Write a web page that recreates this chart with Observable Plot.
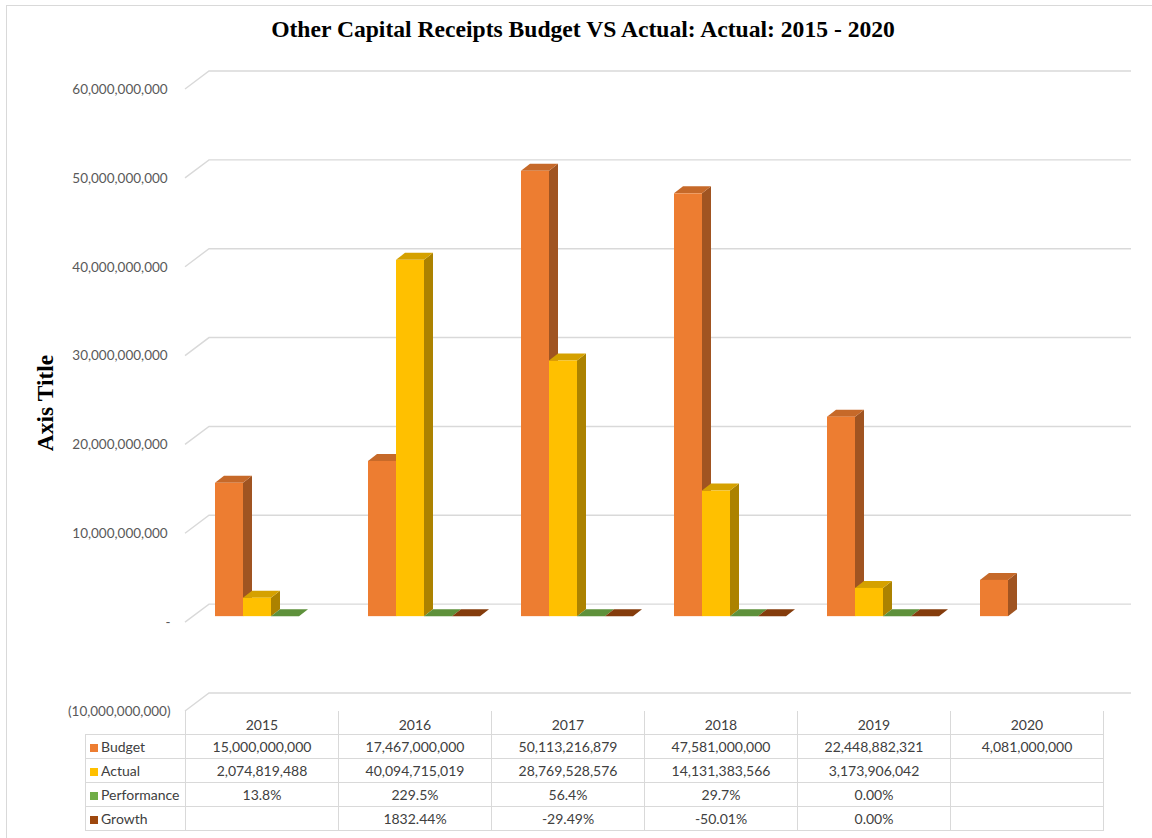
<!DOCTYPE html>
<html>
<head>
<meta charset="utf-8">
<script src="https://cdn.jsdelivr.net/npm/d3@7"></script>
<script src="https://cdn.jsdelivr.net/npm/@observablehq/plot@0.6"></script>
<style>
  body { margin: 0; background: #fff; }
  #chart { position: relative; width: 1152px; height: 838px; overflow: hidden; background: #fff; font-family: Lato, "Open Sans", sans-serif; }
  #frame { position: absolute; left: 6px; top: 5px; width: 1200px; height: 900px; border: 1.5px solid #d9d9d9; }
  #title { position: absolute; left: 6px; width: 1154px; top: 16px; text-align: center; font: bold 23.6px "Liberation Serif", "Times New Roman", serif; color: #000; white-space: nowrap; }
  #axis-title { position: absolute; left: 45px; top: 403px; transform: translate(-50%, -50%) rotate(-90deg); font: bold 23.5px "Liberation Serif", "Times New Roman", serif; color: #000; white-space: nowrap; }
  #plot { position: absolute; left: 0; top: 50px; }
  #table { position: absolute; left: 85px; top: 711px; border-collapse: collapse; table-layout: fixed; font-size: 14px; color: #404040; }
  #table td, #table th { border: 1.5px solid #d9d9d9; text-align: center; padding: 0; font-weight: normal; white-space: nowrap; }
  #table thead th { height: 22px; border-top: none; vertical-align: bottom; padding-bottom: 1px; }
  #table thead th.corner { border: none; }
  #table tbody td { height: 23px; }
  #table tbody td.name { text-align: left; padding-left: 4px; }
  #table .key { display: inline-block; width: 8px; height: 8px; margin-right: 3px; vertical-align: 0px; }
</style>
</head>
<body>
<div id="chart">
  <div id="frame"></div>
  <div id="title">Other Capital Receipts Budget VS Actual: Actual: 2015 - 2020</div>
  <div id="axis-title">Axis Title</div>
  <div id="plot"></div>
  <table id="table"></table>
</div>
<script>
// Fiscal years shown as categories
const years = ["2015", "2016", "2017", "2018", "2019", "2020"];

// Amounts (naira) per year; null where no figure was recorded
const budget = [15000000000, 17467000000, 50113216879, 47581000000, 22448882321, 4081000000];
const actual = [2074819488, 40094715019, 28769528576, 14131383566, 3173906042, null];

// Ratios (1 = 100%)
const performance = [0.138, 2.295, 0.564, 0.297, 0, null];
const growth = [null, 18.3244, -0.2949, -0.5001, 0, null];

const seriesNames = ["Budget", "Actual", "Performance", "Growth"];
const seriesColors = ["#ED7D31", "#FFC000", "#70AD47", "#9E480E"];
const seriesValues = [budget, actual, performance, growth];

const yTicks = [-10e9, 0, 10e9, 20e9, 30e9, 40e9, 50e9, 60e9];

// Pseudo-3D geometry (pixels)
const WALL_DX = 24, WALL_DY = 18;   // back wall offset from the front plane
const FRONT_DX = 8, FRONT_DY = 6;   // bar front faces sit one third into the depth
const DEPTH_DX = 9, DEPTH_DY = 7;   // bar extrusion

const rows = [];
years.forEach((year, i) => {
  seriesNames.forEach((series, k) => {
    const value = seriesValues[k][i];
    if (value != null) rows.push({year, series, slot: k, value});
  });
});

const num = d3.format(",");
const tickLabel = d => d === 0 ? "-" : d < 0 ? `(${num(-d)})` : num(d) + "\u2008";

// Gridlines: a short diagonal on the floor edge, then the back-wall line
function grid3d(index, scales, values, dimensions) {
  const {y} = values;
  const {marginLeft, marginRight, width} = dimensions;
  const g = d3.create("svg:g")
    .attr("fill", "none")
    .attr("stroke", "#d9d9d9")
    .attr("stroke-width", 1.4);
  for (const i of index) {
    const yf = y[i];
    g.append("path").attr("d",
      `M${marginLeft},${yf}L${marginLeft + WALL_DX},${yf - WALL_DY}L${width - marginRight + WALL_DX},${yf - WALL_DY}`);
  }
  return g.node();
}

// Clustered columns drawn as boxes: side face, top face, then front face
function bars3d(index, scales, values) {
  const {x, y1, y2, fill} = values;
  const band = scales.x.bandwidth();
  const bw = band / seriesNames.length;
  const g = d3.create("svg:g");
  for (const i of index) {
    const xl = x[i] + rows[i].slot * bw + FRONT_DX, xr = xl + bw;
    const top = Math.min(y1[i], y2[i]) - FRONT_DY;
    const base = Math.max(y1[i], y2[i]) - FRONT_DY;
    const c = d3.color(fill[i]);
    g.append("path")
      .attr("d", `M${xr},${base}L${xr + DEPTH_DX},${base - DEPTH_DY}L${xr + DEPTH_DX},${top - DEPTH_DY}L${xr},${top}Z`)
      .attr("fill", c.darker(1.1).formatHex());
    g.append("path")
      .attr("d", `M${xl},${top}L${xl + DEPTH_DX},${top - DEPTH_DY}L${xr + DEPTH_DX},${top - DEPTH_DY}L${xr},${top}Z`)
      .attr("fill", c.darker(0.5).formatHex());
    if (base - top > 0.5) {
      g.append("rect")
        .attr("x", xl).attr("y", top)
        .attr("width", bw).attr("height", base - top)
        .attr("fill", c.formatHex());
    }
  }
  return g.node();
}

const plot = Plot.plot({
  width: 1152,
  height: 670,
  marginLeft: 185,
  marginRight: 45,
  marginTop: 39,
  marginBottom: 9,
  style: {fontFamily: "Lato, 'Open Sans', sans-serif", fontSize: "13.5px", color: "#595959", background: "transparent", overflow: "visible"},
  x: {domain: years, paddingInner: 0.265, paddingOuter: 0.1325, axis: null},
  y: {domain: [-10e9, 60e9], axis: null},
  color: {domain: seriesNames, range: seriesColors},
  marks: [
    Plot.ruleY(yTicks, {render: grid3d}),
    Plot.text(yTicks, {y: d => d, text: tickLabel, frameAnchor: "left", textAnchor: "end", dx: -15, fill: "#595959"}),
    // clustered, not stacked: every column starts from zero
    Plot.barY(rows, {x: "year", y1: () => 0, y2: "value", fill: "series", render: bars3d})
  ]
});
document.getElementById("plot").append(plot);

// Data table beneath the plot, columns aligned with the year bands
const xScale = plot.scale("x");
const colWidth = xScale && xScale.step ? xScale.step : 153.67;
const table = d3.select("#table");
const colgroup = table.append("colgroup");
colgroup.append("col").style("width", "100px");
years.forEach(() => colgroup.append("col").style("width", `${colWidth}px`));
const head = table.append("thead").append("tr");
head.append("th").attr("class", "corner");
years.forEach(y => head.append("th").text(y));

const pct1 = v => v === 0 ? "0.00%" : (v * 100).toFixed(1) + "%";
const pct2 = v => (v * 100).toFixed(2) + "%";
const formats = [num, num, pct1, pct2];
const body = table.append("tbody");
seriesNames.forEach((name, k) => {
  const tr = body.append("tr");
  const cell = tr.append("td").attr("class", "name");
  cell.append("span").attr("class", "key").style("background", seriesColors[k]);
  cell.append("span").text(name);
  seriesValues[k].forEach(v => tr.append("td").text(v == null ? "" : formats[k](v)));
});
</script>
</body>
</html>
